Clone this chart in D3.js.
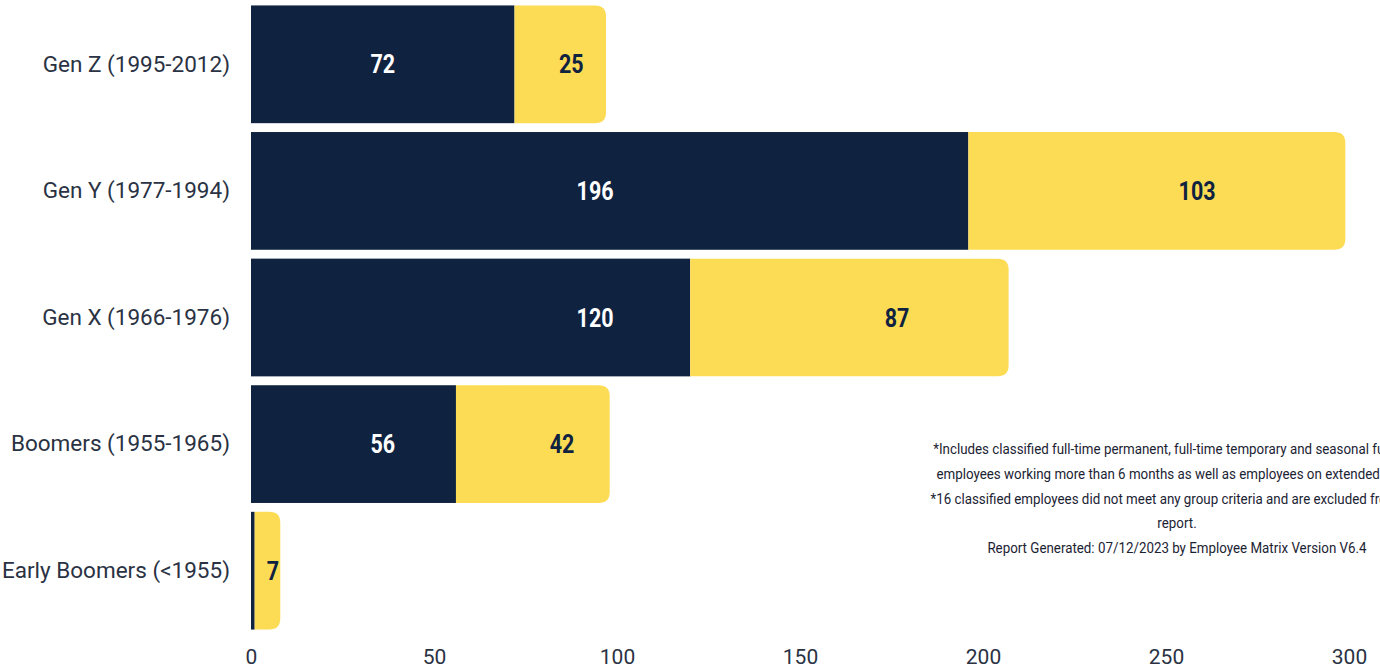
<!DOCTYPE html>
<html>
<head>
<meta charset="utf-8">
<script src="https://cdn.jsdelivr.net/npm/d3@7/dist/d3.min.js"></script>
<style>
  html, body { margin: 0; padding: 0; background: #ffffff; }
  svg { display: block; }
  text { font-family: "Roboto", "DejaVu Sans Condensed", sans-serif; }
</style>
</head>
<body>
<svg id="chart" width="1380" height="670"></svg>
<script>
// Generation groups, top to bottom
const categories = [
  "Gen Z (1995-2012)",
  "Gen Y (1977-1994)",
  "Gen X (1966-1976)",
  "Boomers (1955-1965)",
  "Early Boomers (<1955)"
];
// First segment (navy) and second segment (yellow) per group
const navyValues = [72, 196, 120, 56, 1];
const yellowValues = [25, 103, 87, 42, 7];
// Where each segment's value label sits along the value axis
const navyLabelAt = [36, 94, 94, 36, null];
const yellowLabelAt = [87.5, 258.5, 176.5, 85, 6];
const xTicks = [0, 50, 100, 150, 200, 250, 300];
const notes = [
  "*Includes classified full-time permanent, full-time temporary and seasonal full-time",
  "employees working more than 6 months as well as employees on extended leave.",
  "*16 classified employees did not meet any group criteria and are excluded from this",
  "report.",
  "Report Generated: 07/12/2023 by Employee Matrix Version V6.4"
];

const NAVY = "#0f2240";
const YELLOW = "#fddc55";
const LABEL = "#2a3243";

const svg = d3.select("#chart");
const plotLeft = 251, plotRight = 1349, plotTop = 1, plotBottom = 634;

const x = d3.scaleLinear().domain([0, 300]).range([plotLeft, plotRight]);
const y = d3.scaleBand().domain(categories).range([plotTop, plotBottom]).paddingInner(0.07).paddingOuter(0.035);

const rows = categories.map((c, i) => ({
  cat: c, a: navyValues[i], b: yellowValues[i],
  aAt: navyLabelAt[i], bAt: yellowLabelAt[i]
}));

// Rectangle with rounded right-hand corners only
function rightRounded(x0, y0, w, h, r) {
  r = Math.min(r, w, h / 2);
  return `M${x0},${y0}H${x0 + w - r}Q${x0 + w},${y0} ${x0 + w},${y0 + r}` +
         `V${y0 + h - r}Q${x0 + w},${y0 + h} ${x0 + w - r},${y0 + h}H${x0}Z`;
}

const g = svg.append("g");

g.selectAll("rect.navy").data(rows).join("rect")
  .attr("class", "navy")
  .attr("x", x(0))
  .attr("y", d => y(d.cat))
  .attr("width", d => x(d.a) - x(0))
  .attr("height", y.bandwidth())
  .attr("fill", NAVY);

g.selectAll("path.yellow").data(rows).join("path")
  .attr("class", "yellow")
  .attr("d", d => rightRounded(x(d.a), y(d.cat), x(d.a + d.b) - x(d.a), y.bandwidth(), 11))
  .attr("fill", YELLOW);

// Narrow bold value label inside a segment
function valueLabel(sel, cx, fill) {
  sel.attr("transform", d => `translate(${cx(d)},${y(d.cat) + y.bandwidth() / 2}) scale(0.86,1)`)
    .attr("dy", "0.36em")
    .attr("text-anchor", "middle")
    .attr("font-size", 25)
    .attr("font-weight", "bold")
    .attr("fill", fill);
}

g.selectAll("text.navyLabel").data(rows.filter(d => d.aAt != null)).join("text")
  .attr("class", "navyLabel")
  .call(valueLabel, d => x(d.aAt), "#ffffff")
  .text(d => d.a);

g.selectAll("text.yellowLabel").data(rows).join("text")
  .attr("class", "yellowLabel")
  .call(valueLabel, d => x(d.bAt), NAVY)
  .text(d => d.b);

// Category axis
const yAxis = svg.append("g")
  .attr("transform", `translate(${plotLeft},0)`)
  .call(d3.axisLeft(y).tickSize(0).tickPadding(21));
yAxis.select(".domain").remove();
yAxis.selectAll("text")
  .attr("font-family", "Roboto, sans-serif")
  .attr("font-size", 22.5)
  .attr("fill", LABEL);

// Value axis
const xAxis = svg.append("g")
  .attr("transform", `translate(0,${plotBottom})`)
  .call(d3.axisBottom(x).tickValues(xTicks).tickSize(0).tickPadding(15));
xAxis.select(".domain").remove();
xAxis.selectAll("text")
  .attr("font-family", "Roboto, sans-serif")
  .attr("font-size", 21)
  .attr("fill", LABEL);

// Footnotes
svg.append("g").selectAll("text").data(notes).join("text")
  .attr("transform", (d, i) => `translate(1177,${454 + i * 24.8}) scale(0.89,1)`)
  .attr("text-anchor", "middle")
  .attr("font-size", 15)
  .attr("fill", "#1b2333")
  .text(d => d);
</script>
</body>
</html>
